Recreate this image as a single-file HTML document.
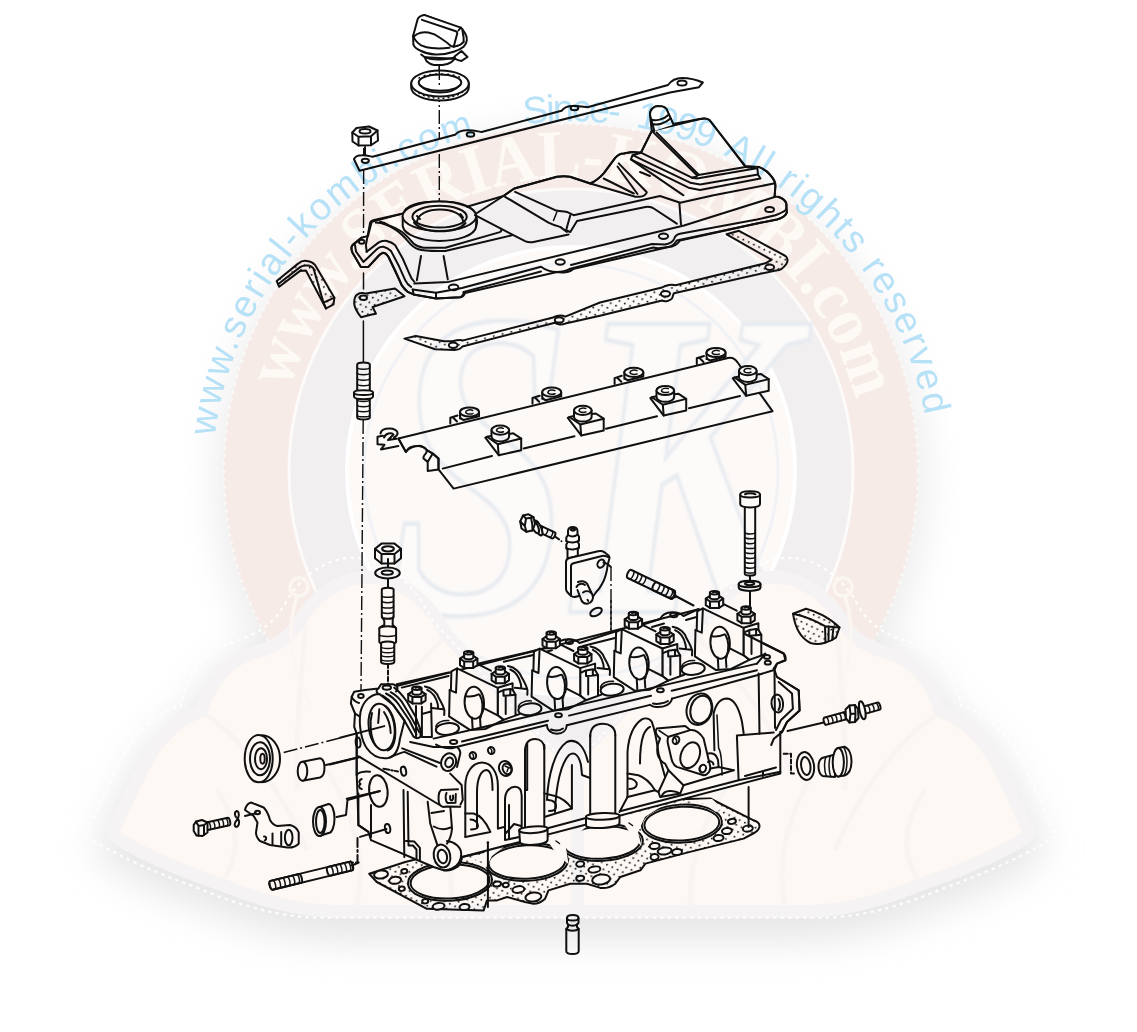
<!DOCTYPE html>
<html lang="en"><head><meta charset="utf-8"><title>serial-kombi.com - cylinder head exploded view</title>
<style>
html,body{margin:0;padding:0;background:#fff;}
body{width:1137px;height:1032px;overflow:hidden;font-family:"Liberation Sans",sans-serif;}
svg{display:block}
.l{fill:none;stroke:#101010;stroke-width:2;stroke-linecap:round;stroke-linejoin:round}
.w{fill:#fff;stroke:#101010;stroke-width:2;stroke-linecap:round;stroke-linejoin:round}
.t{fill:none;stroke:#101010;stroke-width:1.5;stroke-linecap:round;stroke-linejoin:round}
.d{fill:url(#dots);stroke:#101010;stroke-width:2;stroke-linejoin:round}
.c{fill:none;stroke:#101010;stroke-width:1.4;stroke-dasharray:14 3 2 3}
</style></head><body>
<svg width="1137" height="1032" viewBox="0 0 1137 1032">
<!-- defs.svg -->
<defs>
<pattern id="dots" width="9" height="7.4" patternUnits="userSpaceOnUse" patternTransform="rotate(-14)">
<rect width="9" height="7.4" fill="#fff"/><circle cx="1.8" cy="1.7" r="0.95" fill="#111"/><circle cx="6.3" cy="5.4" r="0.95" fill="#111"/>
</pattern>
<filter id="blur30" x="-20%" y="-20%" width="140%" height="140%"><feGaussianBlur stdDeviation="20"/></filter>
<filter id="blur3" x="-10%" y="-10%" width="120%" height="120%"><feGaussianBlur stdDeviation="1.3"/></filter>
<path id="bluearc" d="M217.5 543.4 A359.5 359.5 0 1 1 925.5 543.4"/>
<path id="pinkarc" d="M282.5 521.9 A293 293 0 1 1 859.5 521.9"/>
</defs>
<g id="art">
<!-- top.svg -->
<g id="top">
<!-- centerlines -->
<path class="c" d="M439.3 66 V222"/>
<path class="c" d="M363.7 148 L363.5 238"/>
<path class="t" d="M363.5 273 V289 M363.4 321 V363"/>
<path class="c" d="M363.2 420 L361 692"/>
<!-- oil cap -->
<g id="oilcap">
<path class="w" d="M424.8 57.3 C425.5 59.5 426 60.5 426.9 61.6 C429 63.5 431.5 64.6 433.9 65.1 L442.4 65.1 C446 64.5 449 63.6 450.9 62.3 C452.5 61.3 453.8 60 454.5 58.7 Z"/>
<path class="w" d="M454.5 56.5 L461.5 51 L467.5 57 L461.5 60.9 C459 60.5 457 59.8 455.2 58.8 Z"/>
<path class="w" d="M413.1 36.1 L413.4 44.6 C414.5 47.5 417.5 49.5 421.2 51 C426 53.5 431 54.4 435.4 54.5 C442 54.7 448 53.7 453.7 51.7 C458 50.3 461.5 48.5 463.6 46.7 C465.5 45 466.6 42.5 466.8 40.4 C467 38 466.5 36 465.8 34.7 C465 33 463.7 31 462.2 29 L424 14.9 Z"/>
<path class="l" d="M421.2 54.5 L424.8 57.3 C430 59.2 435 59.7 439.6 59.5 C445 59.3 450 58.8 454.5 57.5"/>
<path class="l" d="M413.1 36.1 C415 40 418 43.5 421.2 45.3 C424.5 46.8 428 47.8 431.8 48.1 C438 48.6 444 48.4 449.5 47.8 M456.6 46 C459.5 45.3 462 43.8 463.6 41.8"/>
<path class="w" d="M424 14.9 C421 15.5 418.6 17 417.7 19.1 L413.1 36.1 C414 37 415.5 35 417.3 34 C421 32 425 32 428.3 32.6 C432.5 33.5 436.5 35.2 439.6 37.5 C444 40.3 448 43.3 450.9 46 L453.7 46.7 L456.6 46 C459.5 45.3 462 43.8 463.6 41.8 L463.6 37.5 L462.2 29 L460.8 27.6 Z"/>
<path class="l" d="M421.9 19.9 L455.9 31.2 C456.8 31.6 457.2 32.3 457.3 33.3 L453.7 46.7 M460.8 27.6 L458.5 30.5"/>
</g>
<!-- seal ring -->
<g id="sealring">
<path class="w" d="M411.2 83.5 V87.5 C411.2 94.7 424 100.5 440 100.5 C456 100.5 468.8 94.7 468.8 87.5 V83.5"/>
<ellipse class="w" cx="440" cy="83.5" rx="28.8" ry="13"/>
<ellipse class="w" cx="440" cy="82.6" rx="21.3" ry="8.2"/>
<path class="l" d="M420.5 85.5 C424 90 432 92.6 440 92.6 C448 92.6 456 90 459.5 85.5"/>
<path class="c" d="M439.3 66 V88"/>
<path class="t" stroke-dasharray="0.8 4.2" d="M415 90 C422 96.5 432 98.3 440 98.3 C449 98.3 459 96 465 90"/>
<path class="t" stroke-dasharray="0.8 5" d="M419 78 C426 72.5 454 72.5 461 78"/>
</g>
<!-- nut -->
<g id="nut1">
<path class="w" d="M352.3 132.5 L356.5 128 L369 126.5 L377.5 130.5 L378 140.5 L371 145.3 L358.5 145.5 L352.5 141.5 Z"/>
<path class="l" d="M352.3 132.5 L358.5 136.8 L371 136.2 L377.5 130.5 M358.5 136.8 V145.5 M371 136.2 V145.3"/>
<ellipse class="l" cx="365" cy="131.3" rx="5.5" ry="2.3"/>
<path class="l" d="M365 147 V160" stroke-width="1.6"/>
</g>
<!-- reinforcement strip -->
<g id="strip">
<path class="w" d="M354 159.2 C355 156.3 358 155.2 362 155.2 C366 155 369 156 372.5 156.8 L455 134.8 C458 131.5 463 130.2 468 130.3 C473 130.3 477 131.2 481.5 132 L561.5 110.8 C564 107.5 569 105.8 574 106 C579 106 583 106.8 587.5 107.3 L668 85 C671 81 676 78 682 78 C690 78 697 80 702.8 82.5 L699 87.2 L670 92.5 L359.5 170.8 Z"/>
<ellipse class="l" cx="365.3" cy="160.8" rx="3.6" ry="2.1"/>
<ellipse class="l" cx="470.5" cy="134.5" rx="3.8" ry="2.2"/>
<ellipse class="l" cx="574.5" cy="108" rx="3.8" ry="2.2"/>
<ellipse class="l" cx="682" cy="83" rx="4.6" ry="2.5"/>
</g>
</g>
<!-- cover.svg -->
<g id="gasket">
<!-- right / back part of gasket (visible behind cover) -->
<path class="d" d="M404.4 338.6 L435.2 349.2 L454.5 350 C458 349.8 461 348.5 462.4 346.5 L554.8 322.8 C557 324.8 562 325 565.3 323.6 L600 315.7 L662 300.5 C665 302 670 301 672 298.5 L673.9 293.2 L775.9 270.4 C780 270.5 784 267.5 786.3 264 C788 261 788 258 785.5 256 L739 230.8 L726.6 234.3 L771.5 259.8 L765.3 263.3 L675.6 285.3 C672 284.3 666 285 662 287.5 L600 302.5 L565.3 316.6 C562 315 557 315.5 553 317.5 L463.3 340.4 C460 339.8 456 340.3 452.8 341.3 L444 341.2 L415.8 336 Z"/>
<ellipse class="w" cx="769.7" cy="267.2" rx="4.4" ry="2.7"/>
<ellipse class="w" cx="665.5" cy="293.8" rx="4.6" ry="2.8"/>
<ellipse class="w" cx="559.2" cy="319.9" rx="4.4" ry="2.7"/>
<ellipse class="w" cx="453.2" cy="345.3" rx="4.4" ry="2.7"/>
<!-- left end of gasket -->
<path class="d" d="M357.5 294.4 C360 292.8 363 292.8 366 293.6 L395 288.4 L404.5 296.2 L372.6 307 L376 313.7 L371.7 314.5 L361 317.2 C357 312 354.5 308 354.2 303.6 C354 299 355 296 357.5 294.4 Z"/>
<ellipse class="w" cx="363.4" cy="297.8" rx="3.6" ry="2.2"/>
</g>
<g id="cover">
<!-- silhouette fill -->
<path class="w" d="M371.7 221.7 L403.5 213.4 C406 204 424 201.5 439.4 201.5 C458 201.5 473 206 475.5 214 L503.4 196 L514.3 188.5 L556.9 176.8 C565 175.5 571 176.5 575.3 178.5 L590.3 183.5 C596 181 600 177.5 603.7 173.4 L615.4 157.6 C618 154.5 621 153.5 623.7 153.4 L632 152 L640.9 152.7 L651.8 130.9 L650 115 C650 109 655 105.5 659 106 C664 106 667 108.5 667.5 112 L673 124 L700 119 C704 118 707 118.2 709.5 120 L745.4 166 L758.7 166.9 C764 169 768 172 770.4 175.2 C774 179 775.5 182 775.4 186 L774.6 196.5 L778.8 197 C783 198.5 786 201 786.3 203.6 L787 212 C786 216 781 218.5 777 219.5 L760.4 222.8 L680 240.5 C677 245 672 247 668.5 247 L573 269 C570 272.5 562 273 557 272 L465 293 C464 296 462 297 460.3 297.2 L436 298.6 L413.5 294.4 L407.7 291.9 L401.8 285.3 L388.4 256.8 C386 253 384 252.5 382.6 252.7 L378.4 256 L368.4 266.9 L360.9 266.9 L352.5 252.7 C351 249 351.2 246.5 352.5 245.1 L361.7 237.6 L368 236 Z"/>
<!-- filler neck -->
<path class="l" d="M402.7 216.5 V226 C404 234.5 420 241 439.4 241 C459 241 475 235 476.2 226.5 V216.5"/>
<ellipse class="w" cx="439.4" cy="216.3" rx="36.8" ry="14.7"/>
<ellipse class="l" cx="439.6" cy="216.7" rx="27.2" ry="10.9"/>
<path class="l" d="M417 221.5 C418 214 428 209.5 440 209.5 C452 209.5 462 214 463 221 M417 216 L420 219 M460.5 214 L463 217.5"/>
<path class="l" d="M414 222.5 C419 228.5 429 231.3 440 231.3 C451 231.3 461 228.5 465.5 223"/>
<!-- left end -->
<path class="l" d="M403 213.5 L374.2 220 C371 221 370 222.5 370 223.4 L365.9 245 L366.7 251.8"/>
<path class="l" d="M375.9 222.6 C383 223 390 226 395.1 229.3 C400 232.5 404.5 237 408.5 241.8 C411.5 245.5 415 248 418.5 249.3 C423 251 428 251.3 445.3 251 L511.8 235.3"/>
<path class="l" d="M380 221.8 C384 222.5 386 223.5 388.4 225.1 C394 227 398 229 401.8 231.8 C406 235 410 239.5 413.5 243.5 C416.5 246 420 247.3 423.5 247.7 L445.3 247.7 L499 232.4 C501.5 231.5 502 230 501 228.8"/>
<path class="l" d="M421 256 L416.9 280.2 M443.6 256 L447.8 279.4"/>
<!-- arch lines -->
<path class="l" d="M361.7 237.6 L352.5 245.1 C351 247 351.3 250 352.5 252.7 L360.9 266.9 L368.4 266.9 L378.4 256 C380 253.5 384 252 386 254 C387 255 388 256 388.4 256.8 L395.1 270.2 L401.8 285.3 C403.5 288.5 405.5 290.5 407.7 291.9 L413.5 294.4"/>
<path class="l" d="M355 245.1 L356 251.5 L363.4 261.9 L376.8 249.3 C379 247 381.5 246.5 383.4 246.8 C386.5 247.5 389 249 391 251 L398.5 265.2 L405.2 280.2 C406.5 283 408.5 285.5 411 286.9"/>
<path class="l" d="M366.7 251.8 L378.4 242.6 C381 241 384 240.6 386.8 241 C390 241.8 393 243 395.1 245.1 L402.7 258.5 L409.3 273.6 C410.5 277 412.5 280 414.4 281.9"/>
<ellipse class="l" cx="361.7" cy="241.8" rx="2.8" ry="2"/>
<!-- flange front -->
<path class="l" d="M414.4 283.6 L448.6 281.9 L684 225.5 L774.6 197"/>
<path class="l" d="M412.7 289.4 L413.5 294.4 L436 298.6 L460.3 297.2 C462.5 296.5 463.5 294.5 463.7 291.9 M436 292.8 V298.6"/>
<path class="l" d="M412.7 289.4 L436 292.8 L462 288 L541 266.8 C546 270.5 552 272 556.9 272 C562 272 567 270.5 570.3 268.7 L653.4 247.5 C658 249 663 248 668.5 247 C672 246 675 243.5 676.8 240.4 L760.4 222.8 L777 219.5 C782 218 786 215.5 787 212"/>
<path class="l" d="M463.7 291.9 L541 271.5 M571 265 L652 244 L665 244.6 C670 243.5 673.5 241 674.3 238.5 C675 236 676 234.5 680 233.7 L757 219.5 L775.4 215.3 C780 213.5 784 211.5 785.5 210.3 C786.5 208 786.6 205.5 786.3 203.6 C785 200.5 782 198 778.8 197"/>
<ellipse class="l" cx="453.6" cy="287.4" rx="4.8" ry="2.8"/>
<ellipse class="l" cx="560.2" cy="262" rx="4.6" ry="2.7"/>
<ellipse class="l" cx="663.5" cy="236.2" rx="4.6" ry="2.7"/>
<ellipse class="l" cx="769.6" cy="209.5" rx="4.4" ry="2.6"/>
<!-- top surfaces -->
<path class="l" d="M467 206.8 L503.4 196 L514.3 188.5 L556.9 176.8 C565 175.5 571 176.5 575.3 178.5 L590.3 183.5 C596 181 600 177.5 603.7 173.4 L615.4 157.6 C618 154.5 621 153.5 623.7 153.4 L632 152 L640.9 152.7"/>
<path class="l" d="M505.1 196.8 L548.5 222.7 C553 225 557 226 560.2 226.9 L566.9 231.9"/>
<path class="l" d="M515.1 191.8 L555.2 210.2 C560 211.5 564 211.5 566.9 211.9 L573.6 215.2 L660 196 L680.2 202.8 L713.6 195.3 L773.8 183.6"/>
<path class="l" d="M570.3 215.2 L566.1 230.3 L570.3 232 L577 221 L645.5 206.9 C649 206.5 652 207 653.8 208.5 L676.8 223.7"/>
<path class="t" d="M556.9 212 L553.5 220.5"/>
<path class="l" d="M475 215.2 L525.1 241.1 C528 242.5 531 242.5 533.5 242 L568.6 234.4"/>

<path class="l" d="M476 226 C478 222 477 218 475.5 214.5"/>
<!-- ramp -->
<path class="l" d="M590.3 183.5 L635.4 196.8 C640 197 644 196 645.5 194.3 C647 193 647 192 646.3 191.8 L618.7 163.4"/>
<path class="l" d="M603.7 178.5 L633.8 193.5 M617.5 166.5 L637.5 194"/>
<path class="l" d="M679.4 203.6 L681 224.5"/>
<!-- tower -->
<path class="l" d="M651.8 130.9 L700 119 C704 118 707 118.2 709.5 120 L745.4 166.9 L696.9 175.2 Z"/>
<path class="l" d="M651.8 130.9 L640.9 152.7 L691.9 177.7 L696.9 176.5 M656.5 132.5 L698.5 174.5"/>
<path class="l" d="M640.9 152.7 L632.6 155.2 L690.2 182.7 L700.2 184.4 L757.9 174.4 L757.5 168.5 L745.4 166.9 M691.9 177.7 L697 178.5 L755.4 168.5"/>
<path class="l" d="M632.6 155.2 L630.9 159.3 L688.5 187.7 L700 190 L760.4 178.6 L757.9 174.4"/>
<path class="l" d="M630.9 159.3 L683.5 195.3 M640 172 L650 176"/>
<path class="l" d="M758.7 166.9 C764 169 768 172 770.4 175.2 C774 179 775.5 182 775.4 186 L774.6 197"/>
<!-- nozzle -->
<path class="w" d="M654.3 131 L650 115 C649.5 109.5 654 106 658.5 105.9 C663.5 105.9 667 108.5 667.7 111.7 L673.5 124.5"/>
<path class="l" d="M651 119.5 C655 121.5 664 119.5 669 114.5 M652.5 124 C657 125.5 665 123.5 670.5 118.5"/>
</g>
<!-- mid.svg -->
<g id="mid">
<path class="d" d="M276.7 281 L298.4 263.4 C301 261 304 260.5 306.8 260.9 C311 261.5 313.5 263 315.1 265 L334.4 297.7 L333.5 304.3 L326 308.5 L305.9 270.5 L300.1 270.9 L279.2 286.8 Z"/>
<path class="l" d="M278 284.2 L300.5 266.9 C303 265.3 306 265.2 308.5 265.6 C310.5 266 312.5 267 313.5 268.4 L323.5 302.7 L326 308.5 M323.5 302.7 L334.4 297.7"/>
<path class="w" d="M357.2 364.5 L357.2 392 A1.9 6.2 90 0 0 369.8 392 L369.8 364.5 A1.9 6.2 90 0 0 357.2 364.5 Z"/><path class="t" d="M357.2 367.2 A1.9 6.2 90 0 0 369.8 367.2 M357.2 372.8 A1.9 6.2 90 0 0 369.8 372.8 M357.2 378.2 A1.9 6.2 90 0 0 369.8 378.2 M357.2 383.8 A1.9 6.2 90 0 0 369.8 383.8 M357.2 389.2 A1.9 6.2 90 0 0 369.8 389.2"/>
<path class="w" d="M357.2 397 L357.2 417.5 A1.9 6.2 90 0 0 369.8 417.5 L369.8 397 A1.9 6.2 90 0 0 357.2 397 Z"/><path class="t" d="M357.2 399.6 A1.9 6.2 90 0 0 369.8 399.6 M357.2 404.7 A1.9 6.2 90 0 0 369.8 404.7 M357.2 409.8 A1.9 6.2 90 0 0 369.8 409.8 M357.2 414.9 A1.9 6.2 90 0 0 369.8 414.9"/>
<path class="w" d="M354 392.5 C354 389.5 373 389.5 373 392.5 V396.5 C373 400 354 400 354 396.5 Z"/>
<path class="l" d="M354 392.8 C354 395.8 373 395.8 373 392.8"/>
<path class="w" d="M398.4 438.5 L728 358 C732 357 735.5 359 738 363 L772.5 411.2 L453.6 488.6 L438.5 469.4 L438.5 458.5 L432.7 453.5 L426.8 450.2 C424 446.5 420 445.5 418.5 446 C413 446 409.5 447.5 405.9 451.9 Z"/>
<path class="l" d="M405.9 451.9 L408.4 448.5 C411 446.5 415 445.8 418.5 446 C422.5 446.3 425.5 448 426.8 450.2 C427 453 425.5 454 424.5 455 C423.5 456.5 423.3 457.5 423.5 458.5 L427.7 461.9 L427.7 471 L438.5 469.4 L438.5 458.5 L432.7 453.5 L427.7 461.9 M432.7 453.5 L426.8 450.2"/>
<path class="l" d="M398.4 438.5 L405.9 451.9"/>
<path class="l" d="M442.7 468.6 L492 456 M523.7 448.5 L574.5 436.2 M606 428.7 L657 416.3 M689 408.3 L740 396"/>
<path class="l" d="M398.4 446 L380.9 449.4 L384.5 444.8 L377.5 444.3 L377.5 436.8 L383 435.8"/>
<path class="l" d="M380.5 433.5 C381 430 385 428.5 389.5 428.5 C394 428.5 397.5 430.5 397.6 433 C397.6 435 396 436.5 394 437.5 M384 437.5 C386 433 391 432.5 393.5 434.5 L388 440 L396.5 438.8"/>
<g transform="translate(469.5 412)"><path class="l" d="M-19.2 11.6 L-19.2 5.8 L-12 3.5 M-16 6 L-12.5 9.5 M-9.5 6.5 L-7 3.8"/><path class="w" d="M-9.5 0 V4.5 C-9.5 6 -8 7.2 -6 8 L9.5 4.2 V0"/><ellipse class="w" cx="0" cy="0" rx="9.5" ry="4.6"/><path class="t" d="M3.2 -1.6 C1 -2.8 -3.5 -2.3 -3.8 0 C-3.8 2 0.5 2.6 3.4 1.6"/></g>
<g transform="translate(551.7 392.2)"><path class="l" d="M-19.2 11.6 L-19.2 5.8 L-12 3.5 M-16 6 L-12.5 9.5 M-9.5 6.5 L-7 3.8"/><path class="w" d="M-9.5 0 V4.5 C-9.5 6 -8 7.2 -6 8 L9.5 4.2 V0"/><ellipse class="w" cx="0" cy="0" rx="9.5" ry="4.6"/><path class="t" d="M3.2 -1.6 C1 -2.8 -3.5 -2.3 -3.8 0 C-3.8 2 0.5 2.6 3.4 1.6"/></g>
<g transform="translate(633.8 372.3)"><path class="l" d="M-19.2 11.6 L-19.2 5.8 L-12 3.5 M-16 6 L-12.5 9.5 M-9.5 6.5 L-7 3.8"/><path class="w" d="M-9.5 0 V4.5 C-9.5 6 -8 7.2 -6 8 L9.5 4.2 V0"/><ellipse class="w" cx="0" cy="0" rx="9.5" ry="4.6"/><path class="t" d="M3.2 -1.6 C1 -2.8 -3.5 -2.3 -3.8 0 C-3.8 2 0.5 2.6 3.4 1.6"/></g>
<g transform="translate(716 352.5)"><path class="l" d="M-19.2 11.6 L-19.2 5.8 L-12 3.5 M-16 6 L-12.5 9.5 M-9.5 6.5 L-7 3.8"/><path class="w" d="M-9.5 0 V4.5 C-9.5 6 -8 7.2 -6 8 L9.5 4.2 V0"/><ellipse class="w" cx="0" cy="0" rx="9.5" ry="4.6"/><path class="t" d="M3.2 -1.6 C1 -2.8 -3.5 -2.3 -3.8 0 C-3.8 2 0.5 2.6 3.4 1.6"/></g>
<g transform="translate(500.3 430.1)"><path class="w" d="M-15 7.6 L-13.3 6.7 L-2.5 14.2 L20.9 8.4 L20.9 20.1 L-1.6 25.1 Z"/><path class="l" d="M-13.3 6.7 L-9 5.8 M9 3.8 L13 3.2 L20.9 8.4 M-2.5 14.2 L-1.6 25.1"/><path class="w" d="M-8.8 0 V6.5 C-8.8 9.5 -4 11.3 0 11.3 C4 11.3 8.8 9.5 8.8 6.5 V0"/><ellipse class="w" cx="0" cy="0" rx="8.8" ry="4.6"/><path class="t" d="M3 -1.8 C1 -2.8 -3.5 -2.3 -3.8 0 C-3.8 2 0.5 2.6 3.2 1.6"/></g>
<g transform="translate(582.8 410.3)"><path class="w" d="M-15 7.6 L-13.3 6.7 L-2.5 14.2 L20.9 8.4 L20.9 20.1 L-1.6 25.1 Z"/><path class="l" d="M-13.3 6.7 L-9 5.8 M9 3.8 L13 3.2 L20.9 8.4 M-2.5 14.2 L-1.6 25.1"/><path class="w" d="M-8.8 0 V6.5 C-8.8 9.5 -4 11.3 0 11.3 C4 11.3 8.8 9.5 8.8 6.5 V0"/><ellipse class="w" cx="0" cy="0" rx="8.8" ry="4.6"/><path class="t" d="M3 -1.8 C1 -2.8 -3.5 -2.3 -3.8 0 C-3.8 2 0.5 2.6 3.2 1.6"/></g>
<g transform="translate(665.3 390.5)"><path class="w" d="M-15 7.6 L-13.3 6.7 L-2.5 14.2 L20.9 8.4 L20.9 20.1 L-1.6 25.1 Z"/><path class="l" d="M-13.3 6.7 L-9 5.8 M9 3.8 L13 3.2 L20.9 8.4 M-2.5 14.2 L-1.6 25.1"/><path class="w" d="M-8.8 0 V6.5 C-8.8 9.5 -4 11.3 0 11.3 C4 11.3 8.8 9.5 8.8 6.5 V0"/><ellipse class="w" cx="0" cy="0" rx="8.8" ry="4.6"/><path class="t" d="M3 -1.8 C1 -2.8 -3.5 -2.3 -3.8 0 C-3.8 2 0.5 2.6 3.2 1.6"/></g>
<g transform="translate(747.8 370.7)"><path class="w" d="M-15 7.6 L-13.3 6.7 L-2.5 14.2 L20.9 8.4 L20.9 20.1 L-1.6 25.1 Z"/><path class="l" d="M-13.3 6.7 L-9 5.8 M9 3.8 L13 3.2 L20.9 8.4 M-2.5 14.2 L-1.6 25.1"/><path class="w" d="M-8.8 0 V6.5 C-8.8 9.5 -4 11.3 0 11.3 C4 11.3 8.8 9.5 8.8 6.5 V0"/><ellipse class="w" cx="0" cy="0" rx="8.8" ry="4.6"/><path class="t" d="M3 -1.8 C1 -2.8 -3.5 -2.3 -3.8 0 C-3.8 2 0.5 2.6 3.2 1.6"/></g>
<path class="w" d="M536.6 531.2 L552 538.3 A1.5 3.2 24.8 0 0 554.8 532.3 L539.4 525.2 A1.5 3.2 24.8 0 0 536.6 531.2 Z"/><path class="t" d="M539.2 532.3 A1.5 3.2 24.8 0 0 541.9 526.4 M544.3 534.7 A1.5 3.2 24.8 0 0 547.1 528.8 M549.5 537.1 A1.5 3.2 24.8 0 0 552.2 531.2"/>
<ellipse class="w" cx="538.2" cy="528" rx="2.8" ry="8" transform="rotate(-25 538.2 528)"/>
<ellipse class="w" cx="535" cy="526.5" rx="2.8" ry="7.2" transform="rotate(-25 535 526.5)"/>
<path class="w" d="M523 515.5 L528.5 514.3 L533.5 517.2 L535 524 L532.5 530.5 L526.5 531.8 L521.5 528.5 L520.2 521.5 Z"/>
<path class="l" d="M523 515.5 L526 518.5 L531 517.8 L533.5 517.2 M526 518.5 L524.8 526 L526.5 531.8 M524.8 526 L520.2 521.5 M531 517.8 L532.3 524.5 L532.5 530.5"/>
<path class="l" d="M555 536.5 L561.5 541.2" stroke-dasharray="5 3"/>
<path class="w" d="M568 531 C568 525.5 577.5 525.5 577.5 531 L577.5 534.5 L579 536.5 V540.5 L577.8 542 L579 544 V547.5 L577.8 549.5 V556 L567.5 558.5 V550 L566.3 548 V544.5 L567.5 542.5 L566.3 541 V537.5 L568 535 Z"/>
<path class="l" d="M568 535 C571 536.8 575 536.6 577.5 534.5 M566.3 541 C570 543.2 576 543 579 540.5 M566.3 548 C570 550.2 576 550 579 547.5 M570.5 529.5 C571.5 528 574.5 528 575.3 529.5 C574.5 531 571.5 531 570.5 529.5"/>
<path class="w" d="M566 562 C566 559.5 567.5 558.5 569.5 558 L598 551.3 C601 550.8 603 551.3 604.5 552.3 L608.5 555.5 C609.5 556.5 609.6 557.5 609.4 558.5 L607.8 564.3 C607 571 605.3 578.5 602 584 C600 588 598 590.5 596 592.3 L592 598 C590 602 586.5 603.8 584 601 L580.5 595.5 L575 597 C572.5 597.2 571 596.3 570 595 L566.8 591.5 C566.2 590.5 566 589.5 566 588.5 Z"/>
<path class="l" d="M571 596 V566 C571 564.5 572 563.6 573.5 563.2 L602 556 C604 555.6 606.5 556 609.3 557.5"/>
<ellipse class="l" cx="601" cy="563.6" rx="3.3" ry="4.3" transform="rotate(30 601 563.6)"/>
<path class="l" d="M603.5 562.5 C606 563 609 564.5 610.8 566.8"/>
<path class="c" d="M611 567 V633"/>
<path class="w" d="M578 582 C581 580.5 585 581 587 583.5 L592.5 595 C594 599 591.5 602.8 588 603.6 C585 604 582.5 602.5 581.5 600.5 L577.5 590"/>
<path class="l" d="M583 592.5 C585.5 590.8 589 591 591 592.8 M576.5 587 C578 583.5 582 583 585 585 M587.5 599.8 L588.3 601"/>
<ellipse class="l" cx="596" cy="612" rx="6.3" ry="3.6" transform="rotate(-28 596 612)"/>
<path class="w" d="M627.6 578 L670.6 598.7 A2 4.4 25.7 0 0 674.4 590.7 L631.4 570 A2 4.4 25.7 0 0 627.6 578 Z"/><path class="t" d="M629.5 578.9 A2 4.4 25.7 0 0 633.3 571 M633.4 580.8 A2 4.4 25.7 0 0 637.2 572.8 M637.3 582.6 A2 4.4 25.7 0 0 641.1 574.7 M641.1 584.5 A2 4.4 25.7 0 0 645 576.6"/>
<path class="l" d="M653.1 590.3 L670.6 598.7 A2 4.4 25.6 0 0 674.4 590.7 L656.9 582.3 A2 4.4 25.6 0 0 653.1 590.3 Z"/><path class="t" d="M655.3 591.3 A2 4.4 25.6 0 0 659.1 583.4 M659.7 593.4 A2 4.4 25.6 0 0 663.5 585.5 M664 595.5 A2 4.4 25.6 0 0 667.8 587.6 M668.4 597.6 A2 4.4 25.6 0 0 672.2 589.7"/>
<path class="l" d="M672.5 591 L676.5 596.5 L671 598.5 M676.5 596.5 L693.5 605.5"/>
<path class="w" d="M744.8 505 L744.8 574 A1.6 5.2 90 0 0 755.2 574 L755.2 505 A1.6 5.2 90 0 0 744.8 505 Z"/><path class="t" d="M744.8 532.3 A1.6 5.2 90 0 0 755.2 532.3 M744.8 537.2 A1.6 5.2 90 0 0 755.2 537.2 M744.8 542.1 A1.6 5.2 90 0 0 755.2 542.1 M744.8 547 A1.6 5.2 90 0 0 755.2 547 M744.8 551.9 A1.6 5.2 90 0 0 755.2 551.9 M744.8 556.8 A1.6 5.2 90 0 0 755.2 556.8 M744.8 561.7 A1.6 5.2 90 0 0 755.2 561.7 M744.8 566.6 A1.6 5.2 90 0 0 755.2 566.6 M744.8 571.5 A1.6 5.2 90 0 0 755.2 571.5"/>
<path class="w" d="M740.2 494.5 C740.2 490 760 490 760 494.5 V504 C760 508.5 740.2 508.5 740.2 504 Z"/>
<path class="l" d="M740.2 494.8 C740.2 498.3 760 498.3 760 494.8 M745 494.3 C747 493 753 493 755.5 494.3"/>
<path class="l" d="M750 576 V600"/>
<path class="w" d="M738.7 584 C738.7 579.5 760.5 579.5 760.5 584 V587.5 C760.5 592 738.7 592 738.7 587.5 Z"/>
<path class="l" d="M738.7 584.2 C738.7 588.2 760.5 588.2 760.5 584.2"/>
<ellipse class="l" cx="749.6" cy="583.6" rx="4.6" ry="1.7"/>
<path class="l" d="M750 592 V612"/>
<path class="d" d="M793 613.7 L806 608.7 C816 611 830 618 839.5 627.5 L836 637.5 C833 640 830 641.5 825.5 642.5 C820 644.5 815 644.5 810.5 643 C801 638.5 795 627 793 613.7 Z"/>
<path class="l" d="M793 613.7 C804 616 816 621 825 626.2 L839.5 627.5 M825 626.2 L825.5 642.5 M828.7 626.3 L828.5 641 M833.5 626.8 L832.2 639.5"/>
<path class="w" d="M375 548.8 L381.5 543.6 L394.5 543.6 L401 548.8 L401 558.3 L394.5 563.5 L381.5 563.5 L375 558.3 Z"/><path class="l" d="M375 548.8 L381.5 554 L394.5 554 L401 548.8 M381.5 554 V563.5 M394.5 554 V563.5"/><ellipse class="l" cx="388" cy="548.8" rx="5.9" ry="2.6"/>
<path class="l" d="M388 559 V568"/>
<ellipse class="w" cx="387.5" cy="573" rx="12.3" ry="5.4"/>
<ellipse class="l" cx="387.3" cy="572.6" rx="5.6" ry="2.2"/>
<path class="l" d="M388 579 V588"/>
<path class="w" d="M381.8 589.5 L381.8 617 A1.8 5.8 90 0 0 393.6 617 L393.6 589.5 A1.8 5.8 90 0 0 381.8 589.5 Z"/><path class="t" d="M381.8 595.5 A1.8 5.8 90 0 0 393.6 595.5 M381.8 600.8 A1.8 5.8 90 0 0 393.6 600.8 M381.8 606.2 A1.8 5.8 90 0 0 393.6 606.2 M381.8 611.6 A1.8 5.8 90 0 0 393.6 611.6"/>
<path class="l" d="M382.2 617 C383 619 384 620 384.3 621 V625 C382 626 380 627 379.3 628.5 M393.2 617 C392.6 619 392.7 620 392.7 621 V625 C394 626 395.5 627 396 628.5"/>
<path class="w" d="M379.3 628.5 L379.3 642 A2.1 8.3 90 0 0 396.1 642 L396.1 628.5 A2.1 8.3 90 0 0 379.3 628.5 Z"/>
<path class="t" d="M379.3 634.5 C379.3 637 396 637 396 634.5"/>
<path class="w" d="M381.1 643.5 L381.1 662 A2 6.6 90 0 0 394.3 662 L394.3 643.5 A2 6.6 90 0 0 381.1 643.5 Z"/><path class="t" d="M381.1 646.5 A2 6.6 90 0 0 394.3 646.5 M381.1 650.7 A2 6.6 90 0 0 394.3 650.7 M381.1 654.8 A2 6.6 90 0 0 394.3 654.8 M381.1 659 A2 6.6 90 0 0 394.3 659"/>
<path class="l" d="M388 664 V684" stroke-dasharray="4 2.5"/>
</g>
<!-- head.svg -->
<g id="headgasket">
<path class="d" d="M369.2 873.7 L405.2 862 L470 846 L560 822 L640 800 L710.2 798.5 L753.6 820.3 C757 821.5 759.5 823 759.5 826 C759.5 828.5 758 830.5 755 832.5 L743.6 838.6 L690 851.9 L645.4 863.6 L640.4 870.3 L620.3 877 L615.3 883.7 C611 887 605 888.5 600.3 887.9 L586.9 883.7 L570.2 883.7 L548.5 890.4 L545.1 898.7 C541 902.5 537 903.8 533.4 903.7 L525 902 L507.1 897 L497.1 900.4 L487 900.4 L483.7 910.4 L426.9 908.8 L376.8 882 Z"/>
<ellipse class="w" cx="450" cy="881.5" rx="42.1" ry="19.2" transform="rotate(-3 450 881.5)"/>
<ellipse class="l" cx="450" cy="881.5" rx="39.5" ry="17" transform="rotate(-3 450 881.5)"/>
<ellipse class="w" cx="527" cy="862" rx="41" ry="18.9" transform="rotate(-3 527 862)"/>
<ellipse class="l" cx="527" cy="862" rx="38.4" ry="16.7" transform="rotate(-3 527 862)"/>
<ellipse class="w" cx="602" cy="842.5" rx="41" ry="18.4" transform="rotate(-3 602 842.5)"/>
<ellipse class="l" cx="602" cy="842.5" rx="38.4" ry="16.2" transform="rotate(-3 602 842.5)"/>
<ellipse class="w" cx="681.8" cy="823.6" rx="40.1" ry="19" transform="rotate(-3 681.8 823.6)"/>
<ellipse class="l" cx="681.8" cy="823.6" rx="37.5" ry="16.8" transform="rotate(-3 681.8 823.6)"/>
<ellipse class="w" cx="381" cy="874.5" rx="7" ry="4" transform="rotate(-8 381 874.5)"/>
<ellipse class="w" cx="395.1" cy="880.3" rx="6" ry="3.5" transform="rotate(-8 395.1 880.3)"/>
<ellipse class="w" cx="401.8" cy="888.7" rx="3" ry="2.2" transform="rotate(-8 401.8 888.7)"/>
<ellipse class="w" cx="404.3" cy="871.2" rx="3" ry="2.2" transform="rotate(-8 404.3 871.2)"/>
<ellipse class="w" cx="425.2" cy="901.2" rx="3" ry="2.2" transform="rotate(-8 425.2 901.2)"/>
<ellipse class="w" cx="438.6" cy="906.3" rx="6" ry="3.3" transform="rotate(-8 438.6 906.3)"/>
<ellipse class="w" cx="464.5" cy="907" rx="5" ry="3" transform="rotate(-8 464.5 907)"/>
<ellipse class="w" cx="505.8" cy="885" rx="3" ry="2.2" transform="rotate(-8 505.8 885)"/>
<ellipse class="w" cx="518.4" cy="889.5" rx="6" ry="3.3" transform="rotate(-8 518.4 889.5)"/>
<ellipse class="w" cx="533.4" cy="897" rx="8" ry="4.5" transform="rotate(-8 533.4 897)"/>
<ellipse class="w" cx="580.2" cy="864" rx="4" ry="2.8" transform="rotate(-8 580.2 864)"/>
<ellipse class="w" cx="594.4" cy="869.5" rx="6" ry="3" transform="rotate(-8 594.4 869.5)"/>
<ellipse class="w" cx="580.2" cy="878.3" rx="4" ry="2.5" transform="rotate(-8 580.2 878.3)"/>
<ellipse class="w" cx="601.1" cy="879.5" rx="9" ry="5" transform="rotate(-8 601.1 879.5)"/>
<ellipse class="w" cx="654.6" cy="846" rx="5" ry="3" transform="rotate(-8 654.6 846)"/>
<ellipse class="w" cx="664.6" cy="851" rx="7" ry="3.5" transform="rotate(-8 664.6 851)"/>
<ellipse class="w" cx="677" cy="852" rx="5" ry="3" transform="rotate(-8 677 852)"/>
<ellipse class="w" cx="654.6" cy="857" rx="4" ry="3" transform="rotate(-8 654.6 857)"/>
<ellipse class="w" cx="731.9" cy="821.4" rx="4" ry="2.5" transform="rotate(-8 731.9 821.4)"/>
<ellipse class="w" cx="726.9" cy="831" rx="5" ry="3" transform="rotate(-8 726.9 831)"/>
<ellipse class="w" cx="718.5" cy="838" rx="5" ry="3" transform="rotate(-8 718.5 838)"/>
<ellipse class="w" cx="747.8" cy="828.6" rx="5" ry="3" transform="rotate(-8 747.8 828.6)"/>
<ellipse class="w" cx="497.1" cy="884" rx="4" ry="2.5" transform="rotate(-8 497.1 884)"/>
<path d="M545 838 L590 824 L575 836 L566 848 L568.5 864 L558 856 L551 846 Z M618 818 L662 806 L645 817 L638 832 L641.5 846 L633 838 L626 827 Z M470 858 L505 846 L492 856 L486 868 L483 862 Z M693 800 L712 799 L722 808 L716 812 L704 804 Z" fill="#fff" stroke="none"/>
<path class="t" d="M556 841 L559.5 843.5 M629 823 L632.5 825.5"/>
<path class="l" d="M748.6 787 V827"/>
</g>
<g id="head">
<path class="w" d="M351.7 696.8 L354.2 691.8 L365 690.1 L378.4 688.5 L381 684.3 L393.5 684.3 L396.8 686 L698.5 609.2 L763.6 643.5 L783.7 653.5 L785.4 660.2 L777 663.6 L774.5 670.2 L777 677 L798.7 690.3 L799.6 710.4 L787 722 L782 732 L780.3 731.7 L780.3 773.5 L462 857 C461 862 459 866 457 867 C453 870 448 870.8 443.6 870.3 L433.6 867 L371 840.2 L368.4 831.9 L358.4 825.2 L357.5 793.4 L356.7 775 L356.7 733.6 L354.2 726.9 L355 713.5 L350.9 703.5 Z"/>
<path class="l" d="M396.8 684.3 L448.6 672.6 M401.8 687.6 L448.6 676 M478.7 663.4 L530 651.7 M503.8 661.7 L530 655.8"/>
<path class="l" d="M530 651.7 L556 645 C558 641.5 563 639.5 568 639.3 C573 639.2 577 640.5 579.5 643 L617 631 M530 655.8 L552 650.2 M583 646 L615 638"/>
<ellipse class="l" cx="569.4" cy="641.8" rx="3.6" ry="2.2"/>
<path class="l" d="M640 625.5 L660 619 C662 615 667 612.5 672 612.3 C677 612.2 681 613.5 683.5 616 L698.5 609.2 M652 627 L664 623.5 M686 620 L700 616"/>
<ellipse class="l" cx="673.8" cy="615" rx="3.6" ry="2.2"/>
<path class="c" d="M611 600 V632"/>
<ellipse class="l" cx="360.9" cy="696" rx="2.8" ry="2"/>
<ellipse class="l" cx="386.8" cy="687.6" rx="4.2" ry="2.2"/>
<path class="l" d="M378.4 688.5 C376 690 376 692 378 693.5 M396.8 686 C398 688 397.5 690 396 691.5"/>
<path class="l" d="M351.7 696.8 C353 700 356 702 359 703 M355 713.5 C358 716 361.5 717.5 365 718.5"/>
<path class="w" d="M379.3 693.9 C371 694 363 701 360.5 712 C358.5 724 361 740 367 748.5 C372 755.5 380 759 388 758 C394 757 398.5 750 399.9 739 L404.5 720.7 L393 704.7 Z"/>
<ellipse class="w" cx="381.6" cy="727" rx="12.8" ry="23.5" transform="rotate(-8 381.6 727)"/>
<path class="l" d="M385.5 706 C393 712 396.5 725 395 738 C394 745 391 749.5 387.5 750.5 M379.3 709.3 L378.2 723 M384 712 C388 718 390.5 726 390.7 733 M372 713 C369.5 722 370 736 375.5 745.5"/>
<path class="l" d="M382.7 695.6 C387 698 390 701 393 704.7 L404.5 720.7 L413.6 736.7 C415 738.6 418.5 738.6 420.5 736.7 L420.5 729.9"/>
<path class="l" d="M386 693.5 C391 696 395 699.5 398 703.5 L409.5 720.5 L416.5 734.5"/>
<path class="l" d="M390.7 692.2 C395 694.5 399 698 402.2 702.4 L412.5 719.6 L419.3 732.2"/>
<path class="l" d="M394.2 687.6 C399 691 403 696 406.7 701.3 L415.9 717.3 L420.5 729.9"/>
<ellipse class="l" cx="358.1" cy="742.5" rx="2.4" ry="5" transform="rotate(-5 358.1 742.5)"/>
<path class="l" d="M340 737.8 L384.3 726.1"/>
<path class="l" d="M330 764.5 L360 757"/>
<path class="l" d="M416 706 V737 M421.9 706.8 V737 M431.1 703.5 L431.9 737 M421.9 714 L431.1 711.5 M421.9 737 L431.9 737"/>
<g transform="translate(416.9 695.1)"><path class="w" d="M-8.7 -1 L-4.5 -3.8 L4.5 -3.8 L8.7 -1 V5.5 L4.5 8.3 L-4.5 8.3 L-8.7 5.5 Z"/><path class="l" d="M-8.7 -1 L-4.5 1.8 L4.5 1.8 L8.7 -1 M-4.5 1.8 V8.3 M4.5 1.8 V8.3"/><path class="w" d="M-4.6 -6.9 C-4.6 -9.3 4.6 -9.3 4.6 -6.9 V-2.2 C4.6 0.2 -4.6 0.2 -4.6 -2.2 Z"/><path class="l" d="M-4.6 -6.9 C-4.6 -4.6 4.6 -4.6 4.6 -6.9 M-1.5 -7.4 C0 -8 2 -7.8 2.5 -7"/></g>
<g transform="translate(391.2 723)"><path class="l" d="M33.7 -36.6 C41 -35.5 46 -30 47.5 -25.2 C50.5 -20 52.5 -16 53.2 -12.6 L53 -8 M36 -33.2 C41 -31 45 -25 46.5 -19 L47 -15 M40.6 -14.9 L52 -13.7"/></g>
<g transform="translate(474.3 702.7)"><path class="l" d="M33.7 -36.6 C41 -35.5 46 -30 47.5 -25.2 C50.5 -20 52.5 -16 53.2 -12.6 L53 -8 M36 -33.2 C41 -31 45 -25 46.5 -19 L47 -15 M40.6 -14.9 L52 -13.7"/></g>
<g transform="translate(556.8 683)"><path class="l" d="M33.7 -36.6 C41 -35.5 46 -30 47.5 -25.2 C50.5 -20 52.5 -16 53.2 -12.6 L53 -8 M36 -33.2 C41 -31 45 -25 46.5 -19 L47 -15 M40.6 -14.9 L52 -13.7"/></g>
<g transform="translate(639 663.4)"><path class="l" d="M33.7 -36.6 C41 -35.5 46 -30 47.5 -25.2 C50.5 -20 52.5 -16 53.2 -12.6 L53 -8 M36 -33.2 C41 -31 45 -25 46.5 -19 L47 -15 M40.6 -14.9 L52 -13.7"/></g>
<g transform="translate(474.3 702.7)"><ellipse class="l" cx="-26.9" cy="26.3" rx="11.6" ry="5.9" transform="rotate(-6 -26.9 26.3)"/><path class="t" d="M-38.5 24 C-37.5 19.5 -31.5 17.6 -25.5 17.9"/><path class="w" d="M23.4 -14.9 L38.3 -19.4 V-13 L41.2 -8 V12.6 L45.2 11.4 L29.2 17.2 L23.4 12.6 Z"/><path class="l" d="M29.2 -12.6 V-6.9 M36 -13.7 V-8 M30.3 -6.9 L41.2 -8 M31.4 -5.7 V11.4 M23.4 -10 L29.2 -12.6 L36 -13.7 L38.3 -13"/><path class="w" d="M-17.2 -34.3 L23.4 -14.9 L23.4 12.6 L29.2 17.2 L10.9 26.3 L-4 27.4 L-25.2 13.7 L-24.6 -12.6 L-23.4 -12.6 L-22.9 -31.4 Z"/><path class="l" d="M23.4 12.6 L9.7 5.7 M-17.2 -34.3 L-18.3 -10 L-24.6 -12.6"/><ellipse class="l" cx="0" cy="0" rx="9.7" ry="16" transform="rotate(-3 0 0)"/><path class="l" d="M-8.3 -6.5 C-4 -5.5 0 -6.3 4.5 -8.3 M5.3 -8 C8.8 -2 8.8 7 6.3 14.9 M-2.3 14.9 L-1.7 25.6 M5.7 14.9 L6.3 24.4"/><path class="l" d="M4 -38.3 L16.6 -32"/><g transform="translate(-5.6 -43)"><path class="w" d="M-8.7 -1 L-4.5 -3.8 L4.5 -3.8 L8.7 -1 V5.5 L4.5 8.3 L-4.5 8.3 L-8.7 5.5 Z"/><path class="l" d="M-8.7 -1 L-4.5 1.8 L4.5 1.8 L8.7 -1 M-4.5 1.8 V8.3 M4.5 1.8 V8.3"/><path class="w" d="M-4.6 -6.9 C-4.6 -9.3 4.6 -9.3 4.6 -6.9 V-2.2 C4.6 0.2 -4.6 0.2 -4.6 -2.2 Z"/><path class="l" d="M-4.6 -6.9 C-4.6 -4.6 4.6 -4.6 4.6 -6.9 M-1.5 -7.4 C0 -8 2 -7.8 2.5 -7"/></g><g transform="translate(26 -27.8)"><path class="w" d="M-8.7 -1 L-4.5 -3.8 L4.5 -3.8 L8.7 -1 V5.5 L4.5 8.3 L-4.5 8.3 L-8.7 5.5 Z"/><path class="l" d="M-8.7 -1 L-4.5 1.8 L4.5 1.8 L8.7 -1 M-4.5 1.8 V8.3 M4.5 1.8 V8.3"/><path class="w" d="M-4.6 -6.9 C-4.6 -9.3 4.6 -9.3 4.6 -6.9 V-2.2 C4.6 0.2 -4.6 0.2 -4.6 -2.2 Z"/><path class="l" d="M-4.6 -6.9 C-4.6 -4.6 4.6 -4.6 4.6 -6.9 M-1.5 -7.4 C0 -8 2 -7.8 2.5 -7"/></g></g>
<g transform="translate(556.8 683)"><ellipse class="l" cx="-26.9" cy="26.3" rx="11.6" ry="5.9" transform="rotate(-6 -26.9 26.3)"/><path class="t" d="M-38.5 24 C-37.5 19.5 -31.5 17.6 -25.5 17.9"/><path class="w" d="M23.4 -14.9 L38.3 -19.4 V-13 L41.2 -8 V12.6 L45.2 11.4 L29.2 17.2 L23.4 12.6 Z"/><path class="l" d="M29.2 -12.6 V-6.9 M36 -13.7 V-8 M30.3 -6.9 L41.2 -8 M31.4 -5.7 V11.4 M23.4 -10 L29.2 -12.6 L36 -13.7 L38.3 -13"/><path class="w" d="M-17.2 -34.3 L23.4 -14.9 L23.4 12.6 L29.2 17.2 L10.9 26.3 L-4 27.4 L-25.2 13.7 L-24.6 -12.6 L-23.4 -12.6 L-22.9 -31.4 Z"/><path class="l" d="M23.4 12.6 L9.7 5.7 M-17.2 -34.3 L-18.3 -10 L-24.6 -12.6"/><ellipse class="l" cx="0" cy="0" rx="9.7" ry="16" transform="rotate(-3 0 0)"/><path class="l" d="M-8.3 -6.5 C-4 -5.5 0 -6.3 4.5 -8.3 M5.3 -8 C8.8 -2 8.8 7 6.3 14.9 M-2.3 14.9 L-1.7 25.6 M5.7 14.9 L6.3 24.4"/><path class="l" d="M4 -38.3 L16.6 -32"/><g transform="translate(-5.6 -43)"><path class="w" d="M-8.7 -1 L-4.5 -3.8 L4.5 -3.8 L8.7 -1 V5.5 L4.5 8.3 L-4.5 8.3 L-8.7 5.5 Z"/><path class="l" d="M-8.7 -1 L-4.5 1.8 L4.5 1.8 L8.7 -1 M-4.5 1.8 V8.3 M4.5 1.8 V8.3"/><path class="w" d="M-4.6 -6.9 C-4.6 -9.3 4.6 -9.3 4.6 -6.9 V-2.2 C4.6 0.2 -4.6 0.2 -4.6 -2.2 Z"/><path class="l" d="M-4.6 -6.9 C-4.6 -4.6 4.6 -4.6 4.6 -6.9 M-1.5 -7.4 C0 -8 2 -7.8 2.5 -7"/></g><g transform="translate(26 -27.8)"><path class="w" d="M-8.7 -1 L-4.5 -3.8 L4.5 -3.8 L8.7 -1 V5.5 L4.5 8.3 L-4.5 8.3 L-8.7 5.5 Z"/><path class="l" d="M-8.7 -1 L-4.5 1.8 L4.5 1.8 L8.7 -1 M-4.5 1.8 V8.3 M4.5 1.8 V8.3"/><path class="w" d="M-4.6 -6.9 C-4.6 -9.3 4.6 -9.3 4.6 -6.9 V-2.2 C4.6 0.2 -4.6 0.2 -4.6 -2.2 Z"/><path class="l" d="M-4.6 -6.9 C-4.6 -4.6 4.6 -4.6 4.6 -6.9 M-1.5 -7.4 C0 -8 2 -7.8 2.5 -7"/></g></g>
<g transform="translate(639 663.4)"><ellipse class="l" cx="-26.9" cy="26.3" rx="11.6" ry="5.9" transform="rotate(-6 -26.9 26.3)"/><path class="t" d="M-38.5 24 C-37.5 19.5 -31.5 17.6 -25.5 17.9"/><path class="w" d="M23.4 -14.9 L38.3 -19.4 V-13 L41.2 -8 V12.6 L45.2 11.4 L29.2 17.2 L23.4 12.6 Z"/><path class="l" d="M29.2 -12.6 V-6.9 M36 -13.7 V-8 M30.3 -6.9 L41.2 -8 M31.4 -5.7 V11.4 M23.4 -10 L29.2 -12.6 L36 -13.7 L38.3 -13"/><path class="w" d="M-17.2 -34.3 L23.4 -14.9 L23.4 12.6 L29.2 17.2 L10.9 26.3 L-4 27.4 L-25.2 13.7 L-24.6 -12.6 L-23.4 -12.6 L-22.9 -31.4 Z"/><path class="l" d="M23.4 12.6 L9.7 5.7 M-17.2 -34.3 L-18.3 -10 L-24.6 -12.6"/><ellipse class="l" cx="0" cy="0" rx="9.7" ry="16" transform="rotate(-3 0 0)"/><path class="l" d="M-8.3 -6.5 C-4 -5.5 0 -6.3 4.5 -8.3 M5.3 -8 C8.8 -2 8.8 7 6.3 14.9 M-2.3 14.9 L-1.7 25.6 M5.7 14.9 L6.3 24.4"/><path class="l" d="M4 -38.3 L16.6 -32"/><g transform="translate(-5.6 -43)"><path class="w" d="M-8.7 -1 L-4.5 -3.8 L4.5 -3.8 L8.7 -1 V5.5 L4.5 8.3 L-4.5 8.3 L-8.7 5.5 Z"/><path class="l" d="M-8.7 -1 L-4.5 1.8 L4.5 1.8 L8.7 -1 M-4.5 1.8 V8.3 M4.5 1.8 V8.3"/><path class="w" d="M-4.6 -6.9 C-4.6 -9.3 4.6 -9.3 4.6 -6.9 V-2.2 C4.6 0.2 -4.6 0.2 -4.6 -2.2 Z"/><path class="l" d="M-4.6 -6.9 C-4.6 -4.6 4.6 -4.6 4.6 -6.9 M-1.5 -7.4 C0 -8 2 -7.8 2.5 -7"/></g><g transform="translate(26 -27.8)"><path class="w" d="M-8.7 -1 L-4.5 -3.8 L4.5 -3.8 L8.7 -1 V5.5 L4.5 8.3 L-4.5 8.3 L-8.7 5.5 Z"/><path class="l" d="M-8.7 -1 L-4.5 1.8 L4.5 1.8 L8.7 -1 M-4.5 1.8 V8.3 M4.5 1.8 V8.3"/><path class="w" d="M-4.6 -6.9 C-4.6 -9.3 4.6 -9.3 4.6 -6.9 V-2.2 C4.6 0.2 -4.6 0.2 -4.6 -2.2 Z"/><path class="l" d="M-4.6 -6.9 C-4.6 -4.6 4.6 -4.6 4.6 -6.9 M-1.5 -7.4 C0 -8 2 -7.8 2.5 -7"/></g></g>
<g transform="translate(720.1 642.7)"><ellipse class="l" cx="-26.9" cy="26.3" rx="11.6" ry="5.9" transform="rotate(-6 -26.9 26.3)"/><path class="t" d="M-38.5 24 C-37.5 19.5 -31.5 17.6 -25.5 17.9"/><path class="w" d="M23.4 -14.9 L38.3 -19.4 V-13 L41.2 -8 V12.6 L45.2 11.4 L29.2 17.2 L23.4 12.6 Z"/><path class="l" d="M29.2 -12.6 V-6.9 M36 -13.7 V-8 M30.3 -6.9 L41.2 -8 M31.4 -5.7 V11.4 M23.4 -10 L29.2 -12.6 L36 -13.7 L38.3 -13"/><path class="w" d="M-17.2 -34.3 L23.4 -14.9 L23.4 12.6 L29.2 17.2 L10.9 26.3 L-4 27.4 L-25.2 13.7 L-24.6 -12.6 L-23.4 -12.6 L-22.9 -31.4 Z"/><path class="l" d="M23.4 12.6 L9.7 5.7 M-17.2 -34.3 L-18.3 -10 L-24.6 -12.6"/><ellipse class="l" cx="0" cy="0" rx="9.7" ry="16" transform="rotate(-3 0 0)"/><path class="l" d="M-8.3 -6.5 C-4 -5.5 0 -6.3 4.5 -8.3 M5.3 -8 C8.8 -2 8.8 7 6.3 14.9 M-2.3 14.9 L-1.7 25.6 M5.7 14.9 L6.3 24.4"/><path class="l" d="M4 -38.3 L16.6 -32"/><g transform="translate(-5.6 -43)"><path class="w" d="M-8.7 -1 L-4.5 -3.8 L4.5 -3.8 L8.7 -1 V5.5 L4.5 8.3 L-4.5 8.3 L-8.7 5.5 Z"/><path class="l" d="M-8.7 -1 L-4.5 1.8 L4.5 1.8 L8.7 -1 M-4.5 1.8 V8.3 M4.5 1.8 V8.3"/><path class="w" d="M-4.6 -6.9 C-4.6 -9.3 4.6 -9.3 4.6 -6.9 V-2.2 C4.6 0.2 -4.6 0.2 -4.6 -2.2 Z"/><path class="l" d="M-4.6 -6.9 C-4.6 -4.6 4.6 -4.6 4.6 -6.9 M-1.5 -7.4 C0 -8 2 -7.8 2.5 -7"/></g><g transform="translate(26 -27.8)"><path class="w" d="M-8.7 -1 L-4.5 -3.8 L4.5 -3.8 L8.7 -1 V5.5 L4.5 8.3 L-4.5 8.3 L-8.7 5.5 Z"/><path class="l" d="M-8.7 -1 L-4.5 1.8 L4.5 1.8 L8.7 -1 M-4.5 1.8 V8.3 M4.5 1.8 V8.3"/><path class="w" d="M-4.6 -6.9 C-4.6 -9.3 4.6 -9.3 4.6 -6.9 V-2.2 C4.6 0.2 -4.6 0.2 -4.6 -2.2 Z"/><path class="l" d="M-4.6 -6.9 C-4.6 -4.6 4.6 -4.6 4.6 -6.9 M-1.5 -7.4 C0 -8 2 -7.8 2.5 -7"/></g></g>
<path class="l" d="M745 634 L763.6 643.5 L783.7 653.5 C785.5 655 786 657.5 785.4 660.2 L777 663.6 L773.7 668.6 M757 663.6 L765.3 653.5"/>
<ellipse class="l" cx="767" cy="656.9" rx="3" ry="1.9"/>
<ellipse class="l" cx="767.8" cy="662.7" rx="3" ry="1.9"/>
<path class="l" d="M433.6 738.6 L757 663.6"/>
<path class="l" d="M462 741.5 L548 720.7 M569 715.6 L651 695.8 M671.7 690.8 L757 670.2"/>
<path class="l" d="M436 744.5 C440 747 447 748.5 452 748.3 L460.3 746 L546.8 725 M566.8 725.3 L650 704.9 M672 698.6 L757 675.3 L774 670"/>
<ellipse class="l" cx="453.6" cy="741.9" rx="3.6" ry="2"/>
<ellipse class="l" cx="558.5" cy="715.3" rx="3.4" ry="2"/>
<ellipse class="l" cx="660.4" cy="690.2" rx="3.4" ry="2"/>
<path class="l" d="M546.8 725 C547 730 551 733.7 557 733.7 C563 733.7 566.5 730 566.8 725.3 M551 729.5 C555 731 560 730.5 563 728.5"/>
<path class="l" d="M650 704.9 C650 704 650.5 707 656 707 C665 707.5 671 704 672 698.6 M653 703.5 C657 704.5 664 703.5 668 701"/>
<path class="l" d="M758.6 673.6 L759.5 733.7 M774.5 670.2 L775 728"/>
<path class="l" d="M777 677 L798.7 690.3 L799.6 710.4 L787 722 L782 732 C779 735 775 737.5 773.7 739 L771.2 745 M778.7 682 L792 693.6 L792.9 708.7 L781 720 L776 730"/>
<path class="l" d="M777 694.5 C773.5 695 771 699 771.5 704 C772 709 775 712.8 778.5 712.5 C782 712 783.5 707.5 783 702.5 C782.5 698 780 694.5 777 694.5 Z M778.5 699 C780.5 702 780.5 707 778.5 710"/>
<path class="l" d="M736.9 735.4 L773.7 732.5 M736.9 735.4 L738.6 780.2 L780.3 771.8 M745 776 L776 767.5 M763 772.5 V776.5"/>
<ellipse class="l" cx="472.9" cy="755.5" rx="3.2" ry="3.6" transform="rotate(-20 472.9 755.5)"/>
<path class="t" d="M471.5 753 C473.5 754.5 474 757 472.8 758.8"/>
<ellipse class="l" cx="491.2" cy="750.5" rx="3.2" ry="3.6" transform="rotate(-20 491.2 750.5)"/>
<path class="t" d="M489.8 748 C491.8 749.5 492.3 752 491.1 753.8"/>
<ellipse class="l" cx="505.4" cy="768.5" rx="6.3" ry="7.6" transform="rotate(-20 505.4 768.5)"/>
<ellipse class="l" cx="507" cy="768.8" rx="4.2" ry="5.4" transform="rotate(-20 507 768.8)"/>
<path class="t" d="M505 766 L509.5 768 M507 771.5 L508.5 767.5"/>
<path class="l" d="M465.3 836.9 V786 C465.3 772 473 762.5 482 762.5 C491 762.5 497.9 772 497.9 786 V828.5"/>
<path class="l" d="M477 828 V792 C477 779 481 770 486.5 770 C491 770.5 492.5 778 492.5 790"/>
<path class="l" d="M465.3 813.5 H473.5 C480 815 486 822 490.4 831.9 L465.3 836.9 M470.5 819.5 C475 819.5 478 822.5 478 826 C478 828 475 829.5 471 829.5"/>
<path class="l" d="M505 840 V800 C505 791 510 786.8 515 786.8 C519.5 786.8 521.7 790 521.7 796 V838 M509 838 V805 M505 840 L521.7 836.5 M506 833 L514 824 L521 826"/>
<path class="l" d="M498 828.5 L505 826.8 M527.2 743.6 V790 L525 790"/>
<path class="l" d="M525 750 V828.5 M544.3 745 V828.5"/>
<path class="w" d="M519.2 830.2 C519.2 826.5 547.6 824.5 547.6 828.5 V840 C547.6 845 520 847 520 842 Z"/>
<path class="l" d="M519.2 830.2 C519.2 835 547.6 833.5 547.6 828.5"/>
<path class="l" d="M525 752 C525 741 531 739 535 739 C540 739 544.3 742 544.3 749"/>
<path class="l" d="M547 800 C548 775 555 750 566.8 742 C576 738 584 745 588 762 M555 812 C556 785 561 763 569 755 C575 751 579 756 581 765 L582 775 L590 778"/>
<path class="l" d="M544.3 793.4 L555 796 C562 798 568 803 571.9 808.5 L545.1 816.8 M548.5 800 C553 800.5 556 803 556 806.5 C556 809.5 553 811 549 811"/>
<path class="l" d="M571.9 808.5 V765 M586 818 L548.5 828"/>
<path class="l" d="M590.2 735 V815.2 M615.3 735 V815.2"/>
<path class="l" d="M590.2 737 C590.2 726 597 723.7 603 723.7 C609 723.7 615.3 727 615.3 735"/>
<path class="w" d="M586 816.8 C586 812.5 619.5 811.5 619.5 815.5 V823 C619.5 828.5 586 830 586 825.2 Z"/>
<path class="l" d="M586 816.8 C586 821.5 619.5 820.5 619.5 815.5"/>
<path class="l" d="M627.5 797 V752 C628.5 738 632 726 641.8 719.3 C646 717.5 650 719 651.8 721.8 C655 730 657 742 658.5 753.5 L665.1 777"/>
<path class="l" d="M640 763.6 C640 750 641 742 643.4 735.2 C645 731 647.5 728 650 726.8"/>
<path class="l" d="M627.5 773.6 L638.4 775.3 C645 777.5 651 783.5 655 790.3 L627.5 797 M628.4 778.6 C633 778.6 636.8 781 636.8 784.3 C636.8 787.3 633 789 629.2 789"/>
<path class="l" d="M619.5 812 L627.5 797"/>
<ellipse class="l" cx="699.4" cy="709.2" rx="12.6" ry="16" transform="rotate(16 699.4 709.2)"/>
<ellipse class="l" cx="701" cy="709.6" rx="10.4" ry="14" transform="rotate(16 701 709.6)"/>
<path class="l" d="M714.4 750.2 L713.6 713.4 C716 703.5 721 698.4 727 698.4 C734 699 739 708 742 721.8 L743.7 733.5"/>
<path class="t" d="M718.6 748 L717 715 M722 775 C722 762 721 752 718.6 748"/>
<path class="l" d="M656.8 728.5 L685.2 726 L690.2 730.1 M656.8 728.5 C655 731 656 735 660.1 738.5 C657 745 656.5 752 658.5 756.9 C660 760 662.5 762.5 665.1 763.6 L668.5 770.2"/>
<path class="t" d="M659 730.5 L668.5 736.8"/>
<path class="w" d="M668.5 770.2 L683.5 785.3 L680.2 793.6 L660.1 797 L658.5 792 Z"/>
<path class="l" d="M661.5 796.5 C663 792.5 667 790.5 671.5 791 C675 791.3 678.5 792.5 680.2 793.6 M658.5 792 L655 790.3"/>
<path class="w" d="M668.5 736.8 L690.2 730.1 C695 729.5 700 733 703.6 738.5 L710.3 766.9 C710.5 770 709 772.5 707 774 C706 775 705 775.3 703.6 775.3 L676.8 766.9 C674 765.5 672.5 763 671.5 759 L668 744 C667.3 741 667.5 738.5 668.5 736.8 Z"/>
<ellipse class="l" cx="690.2" cy="755.2" rx="9.2" ry="13.4" transform="rotate(22 690.2 755.2)"/>
<ellipse class="l" cx="676" cy="740.2" rx="3.2" ry="4" transform="rotate(22 676 740.2)"/>
<path class="t" d="M674.8 737.8 C676.6 739.3 677 741.8 675.8 743.6"/>
<ellipse class="l" cx="702.7" cy="768.6" rx="3.2" ry="4" transform="rotate(22 702.7 768.6)"/>
<path class="t" d="M701.2 766 C699.3 767.5 699.3 770.5 701.5 771.6"/>
<path class="l" d="M708.6 753.5 C713 752.5 716.5 755 718 760 L718.6 766.9 M708 762 C710.5 760.5 713 761.5 713.5 764.5 M710.3 768.5 L718.6 766.9 L733.7 770.2"/>
<path class="l" d="M621 811 L738.6 780.2 M683.5 785.3 L733.7 770.2"/>
<path class="l" d="M356.7 733.6 L356.7 775"/>
<path class="l" d="M356.7 775 C358 772.5 364 771 370 771.7 M361.7 779 C359 780 358.5 783 360.5 784 C358.5 785 358.5 788.5 361.7 789 M358.4 793.4 V825.2 L368.4 831.9 M371 805 V836.9"/>
<ellipse class="l" cx="378.4" cy="791" rx="9.2" ry="15.9" transform="rotate(-6 378.4 791)"/>
<path class="l" d="M346.7 798.7 L379.3 791.2"/>
<ellipse class="l" cx="403.5" cy="771.2" rx="2.6" ry="4.6" transform="rotate(-10 403.5 771.2)"/>
<path class="l" d="M383.4 768.7 L398 771.5" stroke-dasharray="6 2 1.5 2"/>
<ellipse class="l" cx="387.6" cy="828.5" rx="2.6" ry="4.6" transform="rotate(-10 387.6 828.5)"/>
<path class="l" d="M360 836.9 L386.5 829"/>
<path class="l" d="M403.5 790.1 L404.3 857 M407.7 791.8 L408.5 845 M406 841.1 L414.4 841.6 L419.9 847.8 V860.3 M408.5 845.5 L413 845.5 L416.5 849.5 V859"/>
<path class="l" d="M358.7 756.4 L438.8 804.5 M391.9 756.4 C396 755 400 753 404.5 751.9 L436.5 766.7 M402.2 748.4 L440 763 M410.2 741.9 L433.6 747 L457 747 C459.5 749 460.5 751 460.3 753.6 L457 767 M450.2 773.6 L461.6 785 L462.8 799.9 L460.5 804.5"/>
<ellipse class="w" cx="448.6" cy="762.2" rx="7.3" ry="9" transform="rotate(20 448.6 762.2)"/>
<ellipse class="l" cx="449.2" cy="762.4" rx="3.8" ry="5" transform="rotate(20 449.2 762.4)"/>
<path class="l" d="M441 790 C438.5 792 438 798 439 803 C440 806.5 443 807.5 446 806.5 L460.3 806.8 M441 790 L458 789.3 M446.5 793 C445 796 445.5 801 447.5 803 L455.5 802.8 L455.8 794 M450.3 796 C449.8 798.5 450.2 800 451.5 800.5 C453 800.5 453.3 798 453 795.5"/>
<path class="l" d="M427.7 801.8 L430.2 823.5 L436.9 843.6 L438.6 850.3 M450.3 807 L452 828.5 C451.5 835 449.5 840 447 843.6 M431.5 813 L444 811 M433.8 826.5 C439 829.5 445 830 450.5 827.5"/>
<path class="l" d="M447 841 C455 842 461 847 461.2 853.6 C461.5 860 458 866 452 868.5 C449 870 446 870.5 443.6 870.3"/>
<ellipse class="w" cx="442" cy="856" rx="8.2" ry="11.6" transform="rotate(-12 442 856)"/>
<ellipse class="l" cx="442.4" cy="856.5" rx="4.6" ry="6.8" transform="rotate(-12 442.4 856.5)"/>
<path class="l" d="M462 857 L483.7 852"/>
<path class="l" d="M487.9 843 V907"/>
<circle cx="487.9" cy="842.5" r="1.3" fill="#101010"/>
</g>
<!-- small.svg -->
<g id="small">
<path class="l" d="M357.5 838 V862.5 H352" stroke-dasharray="9 3 2 3"/>
<path class="w" d="M262 735.2 C271 735.2 280 745 280 758.7 C280 772.5 271 782.3 262 782.3"/>
<ellipse class="w" cx="258.7" cy="758.7" rx="14" ry="23.6"/>
<ellipse class="l" cx="260" cy="758.7" rx="10" ry="16.5"/>
<ellipse class="l" cx="261" cy="758.7" rx="6" ry="10.5"/>
<ellipse class="l" cx="262.5" cy="758.7" rx="2.2" ry="5"/>
<path class="c" d="M283.7 752.5 L340 738"/>
<path class="w" d="M302.5 761.7 L320 758.2 C323 759 324.5 763 324.5 767.5 C324.5 772 323 776.5 320 777.5 L302.5 780.7 Z"/>
<ellipse class="w" cx="302.5" cy="771.2" rx="4.8" ry="9.5"/>
<path class="l" d="M326 765 L357.5 757.5"/>
<path class="w" d="M319.5 807 L328.5 804 C332 804 334.5 810.5 334.5 818.5 C334.5 826.5 332 833 328.5 833 L319.5 836 Z"/>
<ellipse class="w" cx="319.5" cy="821.5" rx="6.5" ry="14.5"/>
<ellipse class="l" cx="320.3" cy="821.5" rx="4.3" ry="11.5"/>
<path class="l" d="M336.5 817 L346 815 L347.5 800 L380 791"/>
<path class="w" d="M207.8 830 L229.5 825.2 A1.5 3.8 -12.5 0 0 227.9 817.8 L206.2 822.6 A1.5 3.8 -12.5 0 0 207.8 830 Z"/><path class="t" d="M210 829.5 A1.5 3.8 -12.5 0 0 208.4 822.2 M214.3 828.5 A1.5 3.8 -12.5 0 0 212.7 821.2 M218.7 827.6 A1.5 3.8 -12.5 0 0 217 820.2 M223 826.6 A1.5 3.8 -12.5 0 0 221.4 819.3 M227.3 825.6 A1.5 3.8 -12.5 0 0 225.7 818.3"/>
<path class="w" d="M196 821.5 L202 820 L207.5 822.5 L207.5 832.5 L202.5 836 L196.5 835.5 L193.7 831 L193.7 825 Z"/>
<path class="l" d="M196 821.5 L198.5 826 L198.5 835.8 M198.5 826 L204 825 L207.5 822.5 M204 825 V835"/>
<path class="l" d="M236.8 811 C234 812 234.5 816.5 237 818 C239.5 819.5 240 824 237.5 826.5 C235.5 827.5 234 825.5 235 823 C236 820.5 238.5 819 238.8 815.5 C239 812.5 238 811 236.8 811 Z"/>
<path class="w" d="M245 810 C246 806 248.5 803 251 802.5 L263.7 807.5 C267 811 269 816 270 820 C272 823.5 274.5 825.5 277.5 826 L290 825 C294 826 297.5 829 298.7 832.5 L298.7 843.7 C296 846.5 292 847.8 287.5 847.5 L270 845 L260 841 C257.5 838.5 256 836 256 832.5 L257.5 822.5 L253.7 816 Z"/>
<ellipse class="l" cx="257.5" cy="812.5" rx="2.5" ry="1.8"/>
<path class="l" d="M245 816 L256 813.2"/>
<ellipse class="l" cx="288.7" cy="837.5" rx="3.8" ry="7.8"/>
<path class="l" d="M281.2 832 V845 M272.5 833.5 V844 M264 836.5 C266.5 836 267 839.5 264.8 840.5"/>
<path class="w" d="M272.6 889.7 L352.1 870.4 A1.8 4.5 -13.6 0 0 349.9 861.6 L270.4 880.9 A1.8 4.5 -13.6 0 0 272.6 889.7 Z"/>
<path class="l" d="M272.6 889.7 L301.1 882.8 A1.8 4.5 -13.6 0 0 298.9 874 L270.4 880.9 A1.8 4.5 -13.6 0 0 272.6 889.7 Z"/><path class="t" d="M274.9 889.1 A1.8 4.5 -13.6 0 0 272.8 880.4 M279.7 887.9 A1.8 4.5 -13.6 0 0 277.6 879.2 M284.4 886.8 A1.8 4.5 -13.6 0 0 282.3 878.1 M289.2 885.6 A1.8 4.5 -13.6 0 0 287.1 876.9 M293.9 884.5 A1.8 4.5 -13.6 0 0 291.8 875.8 M298.7 883.3 A1.8 4.5 -13.6 0 0 296.6 874.6"/>
<path class="l" d="M330.1 875.7 L352.1 870.4 A1.8 4.5 -13.5 0 0 349.9 861.6 L327.9 866.9 A1.8 4.5 -13.5 0 0 330.1 875.7 Z"/><path class="t" d="M332.3 875.1 A1.8 4.5 -13.5 0 0 330.1 866.4 M336.7 874.1 A1.8 4.5 -13.5 0 0 334.5 865.3 M341.1 873 A1.8 4.5 -13.5 0 0 338.9 864.3 M345.5 872 A1.8 4.5 -13.5 0 0 343.3 863.2 M349.9 870.9 A1.8 4.5 -13.5 0 0 347.7 862.2"/>
<path class="l" d="M352 865.5 L358.7 862.5"/>
<path class="l" d="M787.5 731 L823.7 722.5"/>
<path class="w" d="M826 724.9 L847 719.1 A1.5 3.8 -15.4 0 0 845 711.9 L824 717.7 A1.5 3.8 -15.4 0 0 826 724.9 Z"/><path class="t" d="M828.1 724.3 A1.5 3.8 -15.4 0 0 826.1 717.1 M832.3 723.2 A1.5 3.8 -15.4 0 0 830.3 715.9 M836.5 722 A1.5 3.8 -15.4 0 0 834.5 714.8 M840.7 720.9 A1.5 3.8 -15.4 0 0 838.7 713.6 M844.9 719.7 A1.5 3.8 -15.4 0 0 842.9 712.5"/>
<path class="w" d="M863 714.4 L880 709.6 A1.5 3.8 -15.8 0 0 878 702.4 L861 707.2 A1.5 3.8 -15.8 0 0 863 714.4 Z"/><path class="t" d="M865.1 713.8 A1.5 3.8 -15.8 0 0 863.1 706.6 M869.4 712.6 A1.5 3.8 -15.8 0 0 867.4 705.4 M873.6 711.4 A1.5 3.8 -15.8 0 0 871.6 704.2 M877.9 710.2 A1.5 3.8 -15.8 0 0 875.9 703"/>
<path class="w" d="M845.5 709.5 L849.5 705.5 L855 705 L858 709 L858.5 718 L855 722 L849.5 722.5 L846 718.5 Z"/>
<path class="l" d="M849.5 705.5 L850.5 714 L849.5 722.5 M855 705 L855.5 713.5 L855 722 M850.5 714 L855.5 713.5"/>
<ellipse class="w" cx="862.3" cy="710.3" rx="2.8" ry="9.2" transform="rotate(-12 862.3 710.3)"/>
<path class="l" d="M783.7 753.7 H791 V773.5 H796" stroke-dasharray="4 2.5"/>
<ellipse class="w" cx="805.5" cy="766" rx="8.5" ry="14" transform="rotate(-8 805.5 766)"/>
<ellipse class="l" cx="805.8" cy="766" rx="4.6" ry="9" transform="rotate(-8 805.8 766)"/>
<path class="w" d="M822 758 L835 754.5 V777 L822.5 776 C819.5 774 818.5 770 818.5 766.5 C818.5 762.5 819.8 759.5 822 758 Z"/>
<path class="t" d="M826 757 C824 761 824 771 826.5 776.2 M830.5 755.8 C828.5 760 828.5 771.5 831 776.8"/>
<path class="w" d="M838 748 L844.5 746.8 C849 748.5 851.5 754.5 851.5 761 C851.5 768 849 774 844.5 775.5 L838 776.5"/>
<ellipse class="w" cx="838.3" cy="762.3" rx="5.6" ry="14.2"/>
<path class="t" d="M843.5 747.2 C846 751 847 756 847 761.5 C847 767 846 772 843.8 775.6"/>
<path class="w" d="M567 918 C567 914 578.5 914 578.5 918 V923 L577 924.5 V927 L578.7 929 V951 C578.7 955 566.3 955 566.3 951 V929 L568 927 V924.5 L567 923 Z"/>
<path class="l" d="M567 918.3 C567 921.3 578.5 921.3 578.5 918.3 M568 924.5 C570 926 575 926 577 924.5 M566.3 929 C569 931.3 576 931.3 578.7 929"/>
</g>
</g>
<g id="wm" style="mix-blend-mode:multiply">
<!-- watermark.svg -->
<g filter="url(#blur30)" opacity="0.6">
<circle cx="571" cy="481" r="352" fill="#dcdcdc"/>
<path d="M571 905 L571 770 C600 745 650 690 700 640 C720 600 750 582 779 584 C800 586 822 600 836 623 C845 640 860 652 886 659 C910 665 930 690 934 716 C960 722 985 750 995 775 C1005 795 1015 815 1022 832 C1000 847 960 864 917 879 C885 892 850 903 811 905 Z" fill="#d4d4d4" stroke="#d4d4d4" stroke-width="40" transform="translate(0 14)"/>
<path d="M571 905 L571 770 C542 745 492 690 442 640 C422 600 392 582 363 584 C342 586 320 600 306 623 C297 640 282 652 256 659 C232 665 212 690 208 716 C182 722 157 750 147 775 C137 795 127 815 120 832 C142 847 182 864 225 879 C257 892 292 903 331 905 Z" fill="#d4d4d4" stroke="#d4d4d4" stroke-width="40" transform="translate(0 14)"/>
</g>
<circle cx="571" cy="471" r="347" fill="#f7ebe7"/>
<circle cx="571" cy="471" r="347" fill="none" stroke="#fff" stroke-width="2.5" stroke-dasharray="3 5" opacity="0.6"/>
<circle cx="571" cy="471" r="282" fill="#f1eff0" stroke="#fdfbfa" stroke-width="3"/>
<circle cx="571" cy="471" r="224" fill="#fcf9f7" stroke="#fff" stroke-width="4"/>
<circle cx="571" cy="471" r="207" fill="none" stroke="#f1f2f5" stroke-width="3"/>
<text font-family="'Liberation Serif',serif" font-weight="bold" font-size="70" fill="#fdfaf6"><textPath href="#pinkarc" startOffset="133.0" textLength="767.1" lengthAdjust="spacingAndGlyphs">www.SERIAL-KOMBI.com</textPath></text>
<text x="388" y="612" textLength="405" lengthAdjust="spacingAndGlyphs" font-family="'Liberation Serif',serif" font-weight="bold" font-style="italic" font-size="440" fill="#fdfbf9" stroke="#e7ebf0" stroke-width="4.5" filter="url(#blur3)">SK</text>
<!-- flowers.svg -->
<g id="flowerR">
<path d="M571 905 L571 770 C600 745 650 690 700 640 C720 600 750 582 779 584 C800 586 822 600 836 623 C845 640 860 652 886 659 C910 665 930 690 934 716 C960 722 985 750 995 775 C1005 795 1015 815 1022 832 C1000 847 960 864 917 879 C885 892 850 903 811 905 Z" fill="#fdf8f4" stroke="#f5f3f3" stroke-width="26" stroke-linejoin="round"/>
<path d="M571 921 L571 921 M571 770 C600 745 650 690 700 640 C720 600 750 582 779 584 C800 586 822 600 836 623 C845 640 860 652 886 659 C910 665 930 690 934 716 C960 722 985 750 995 775 C1005 795 1015 815 1022 832 C1000 847 960 864 917 879 C885 892 850 903 811 905 L571 905" fill="none" stroke="#fff" stroke-width="2" stroke-dasharray="3 4" stroke-linejoin="round" transform="translate(571 800) scale(1.075 1.12) translate(-571 -800)" opacity="0.9"/>
<path d="M571 905 L571 770 C600 745 650 690 700 640 C720 600 750 582 779 584 C800 586 822 600 836 623 C845 640 860 652 886 659 C910 665 930 690 934 716 C960 722 985 750 995 775 C1005 795 1015 815 1022 832 C1000 847 960 864 917 879 C885 892 850 903 811 905 Z" fill="#fdf8f4"/>
<path d="M934 716 C900 740 860 790 835 850 M785 905 C775 860 790 810 815 770 M836 623 C842 680 846 740 845 790 M690 905 C690 860 700 820 740 770 M917 878 C900 850 905 820 925 790 M700 640 C740 680 770 720 790 770" fill="none" stroke="#f9f4f1" stroke-width="5"/>
<circle cx="843" cy="587" r="9" fill="none" stroke="#fbf6f2" stroke-width="3.5"/>
<path d="M845 596 C856 630 852 670 832 705" fill="none" stroke="#fbf6f2" stroke-width="3.5"/>
</g>
<use href="#flowerR" transform="translate(1142 0) scale(-1 1)"/>
<!-- bluetext.svg -->
<text font-family="'Liberation Sans',sans-serif" font-size="38" fill="#b7e1f7"><textPath href="#bluearc" startOffset="107.3" textLength="422.3" lengthAdjust="spacing">www.serial-kombi.com</textPath></text>
<text font-family="'Liberation Sans',sans-serif" font-size="38" fill="#b7e1f7"><textPath href="#bluearc" startOffset="579.8" textLength="96.0" lengthAdjust="spacing">Since-</textPath></text>
<text font-family="'Liberation Sans',sans-serif" font-size="38" fill="#b7e1f7"><textPath href="#bluearc" startOffset="691.4" textLength="79.1" lengthAdjust="spacing">1999</textPath></text>
<text font-family="'Liberation Sans',sans-serif" font-size="38" fill="#b7e1f7"><textPath href="#bluearc" startOffset="783.7" textLength="342.6" lengthAdjust="spacing">All rights reserved</textPath></text>
</g>
</svg>
</body></html>
